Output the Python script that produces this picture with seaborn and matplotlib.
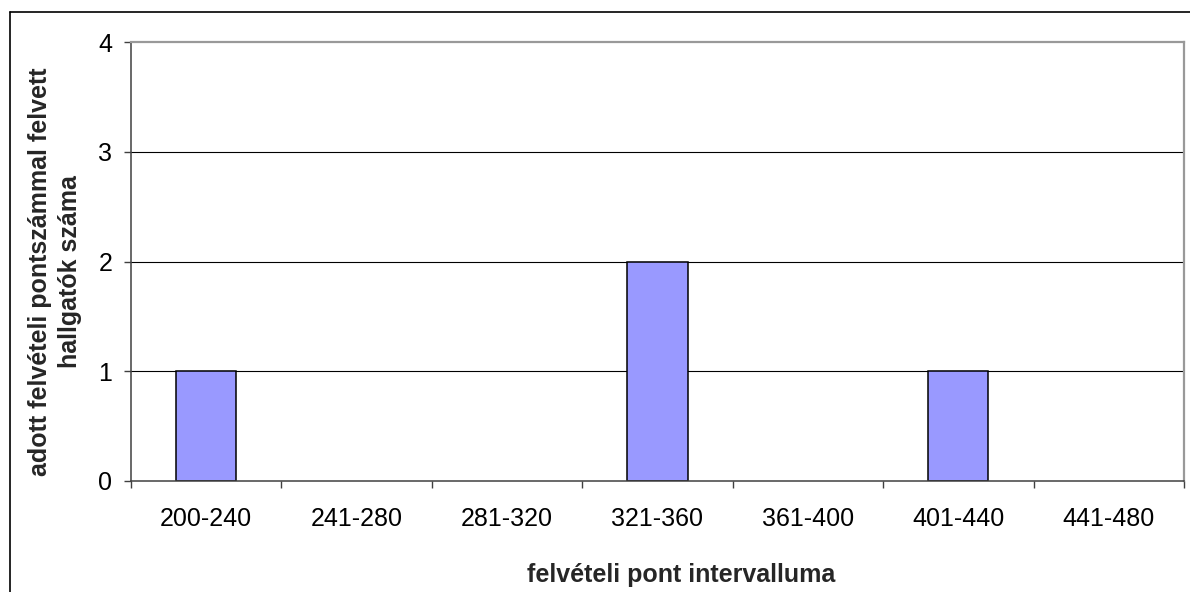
import numpy as np
import pandas as pd
import matplotlib
matplotlib.use('Agg')
import matplotlib.pyplot as plt
import seaborn as sns
from matplotlib.lines import Line2D

# adatok
intervallumok = ['200-240', '241-280', '281-320', '321-360', '361-400', '401-440', '441-480']
hallgatok = [1, 0, 0, 2, 0, 1, 0]
y_ertekek = [0, 1, 2, 3, 4]

sns.set_theme(style='white')
plt.rcParams['font.family'] = ['Liberation Sans', 'DejaVu Sans']

W, H = 1190, 592
fig = plt.figure(figsize=(W / 100, H / 100), dpi=100)
ax = fig.add_axes([131 / W, 1 - 481 / H, (1184 - 131) / W, (481 - 42) / H])

df = pd.DataFrame({'intervallum': intervallumok, 'db': hallgatok})
sns.barplot(data=df, x='intervallum', y='db', color='#9999ff', saturation=1,
            width=0.4, edgecolor='black', linewidth=1.1, errorbar=None, ax=ax)

# a nulla magassagu oszlopoknak ne legyen kerete
for p in ax.patches:
    if p.get_height() == 0:
        p.set_linewidth(0)

ax.set_xlim(-0.5, len(intervallumok) - 0.5)
ax.set_ylim(0, 4)
ax.set_yticks(y_ertekek)

# racsvonalak
for y in y_ertekek[1:-1]:
    ax.axhline(y, color='black', lw=0.8, zorder=0.5)

ax.set_xticks(np.arange(-0.5, len(intervallumok), 1), minor=True)
ax.tick_params(axis='x', which='major', length=0, pad=19, labelsize=18, labelcolor='black')
ax.tick_params(axis='x', which='minor', bottom=True, length=5, width=1, color='#404040')
ax.tick_params(axis='y', left=True, length=5, width=1, pad=8.5, labelsize=18,
               color='#404040', labelcolor='black')

for s in ['left', 'bottom']:
    ax.spines[s].set_color('#404040')
    ax.spines[s].set_linewidth(1.1)
for s in ['top', 'right']:
    ax.spines[s].set_color('#999999')
    ax.spines[s].set_linewidth(1.6)

ax.set_xlabel('')
ax.set_ylabel('')

fig.text(681 / W, 1 - 582 / H, 'felvételi pont intervalluma', ha='center',
         va='baseline', fontsize=18, fontweight='bold')
fig.text(55 / W, 1 - 272 / H, 'adott felvételi pontszámmal felvett\nhallgatók száma',
         ha='center', va='center', rotation=90, multialignment='center',
         linespacing=1.3, fontsize=18, fontweight='bold')

# keret
fig.add_artist(Line2D([10 / W, 10 / W], [0, 1 - 12 / H], transform=fig.transFigure,
                      color='black', lw=1.2))
fig.add_artist(Line2D([10 / W, 1], [1 - 12 / H, 1 - 12 / H], transform=fig.transFigure,
                      color='black', lw=1.2))

fig.savefig('out.png', dpi=100)
